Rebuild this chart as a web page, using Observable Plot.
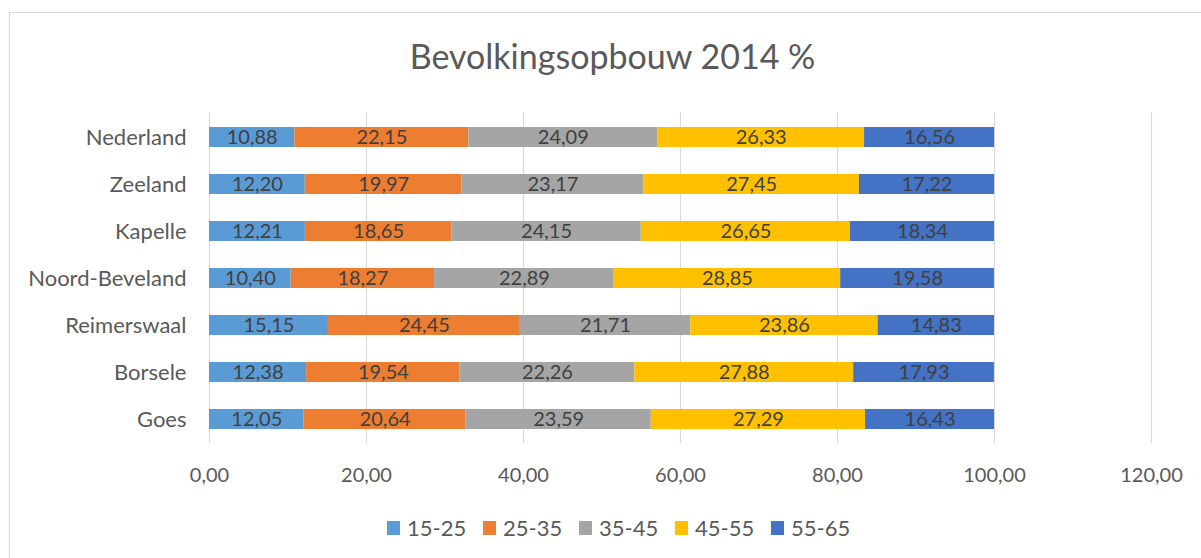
<!DOCTYPE html>
<html>
<head>
<meta charset="utf-8">
<script src="https://cdn.jsdelivr.net/npm/d3@7"></script>
<script src="https://cdn.jsdelivr.net/npm/@observablehq/plot@0.6"></script>
<style>
  html, body { margin: 0; padding: 0; background: #fff; }
  #wrap { position: relative; width: 1201px; height: 558px; overflow: hidden; font-family: Lato, "Open Sans", sans-serif; }
  #frame { position: absolute; left: 9px; top: 12px; width: 1250px; height: 600px; border: 1.5px solid #d9d9d9; box-sizing: border-box; }
  #title { position: absolute; left: 12px; top: 39px; width: 1201px; text-align: center; font-size: 34px; color: #595959; line-height: 1; }
  #chart { position: absolute; left: 0; top: 95px; }
  #legend { position: absolute; left: 0; top: 516px; width: 1201px; height: 24px; font-size: 22px; color: #595959; line-height: 24px; }
  #legend .item { position: absolute; top: 0; display: flex; align-items: center; gap: 7px; white-space: nowrap; }
  #legend .sw { width: 13px; height: 14px; display: inline-block; }
</style>
</head>
<body>
<div id="wrap">
  <div id="frame"></div>
  <div id="title">Bevolkingsopbouw 2014 %</div>
  <div id="chart"></div>
  <div id="legend"></div>
</div>
<script>
const categories = ["Nederland", "Zeeland", "Kapelle", "Noord-Beveland", "Reimerswaal", "Borsele", "Goes"];
const seriesNames = ["15-25", "25-35", "35-45", "45-55", "55-65"];
const s15_25 = [10.88, 12.20, 12.21, 10.40, 15.15, 12.38, 12.05];
const s25_35 = [22.15, 19.97, 18.65, 18.27, 24.45, 19.54, 20.64];
const s35_45 = [24.09, 23.17, 24.15, 22.89, 21.71, 22.26, 23.59];
const s45_55 = [26.33, 27.45, 26.65, 28.85, 23.86, 27.88, 27.29];
const s55_65 = [16.56, 17.22, 18.34, 19.58, 14.83, 17.93, 16.43];
const xTicks = [0, 20, 40, 60, 80, 100, 120];
const colors = ["#5B9BD5", "#ED7D31", "#A5A5A5", "#FFC000", "#4472C4"];

const seriesValues = [s15_25, s25_35, s35_45, s45_55, s55_65];
const data = [];
seriesNames.forEach((s, si) => {
  categories.forEach((c, ci) => {
    data.push({category: c, series: s, value: seriesValues[si][ci]});
  });
});

const fmt = v => d3.format(".2f")(v).replace(".", ",");

const chart = Plot.plot({
  width: 1201,
  height: 400,
  marginLeft: 209,
  marginRight: 50,
  marginTop: 17,
  marginBottom: 52,
  style: {fontFamily: "Lato, 'Open Sans', sans-serif", fontSize: "20px", color: "#595959", background: "transparent"},
  x: {domain: [0, 120], ticks: xTicks, tickFormat: fmt},
  y: {domain: categories, paddingInner: 0.58, paddingOuter: 0.29, label: null},
  color: {domain: seriesNames, range: colors},
  marks: [
    Plot.gridX(xTicks, {stroke: "#d9d9d9", strokeOpacity: 1, strokeWidth: 1.2}),
    Plot.barX(data, Plot.stackX({y: "category", x: "value", fill: "series", order: seriesNames})),
    Plot.text(data, Plot.stackX({y: "category", x: "value", z: "series", order: seriesNames, text: d => fmt(d.value), fill: "#404040", fontSize: 20})),
    Plot.axisX({ticks: xTicks, tickFormat: fmt, tickSize: 0, tickPadding: 24, label: null, fontSize: 20}),
    Plot.axisY({tickSize: 0, tickPadding: 23, label: null, fontSize: 22})
  ]
});
document.getElementById("chart").appendChild(chart);

const legend = document.getElementById("legend");
seriesNames.forEach((s, i) => {
  const item = document.createElement("span");
  item.className = "item";
  item.style.left = (387 + 96 * i) + "px";
  const sw = document.createElement("span");
  sw.className = "sw";
  sw.style.background = colors[i];
  const t = document.createElement("span");
  t.textContent = s;
  item.appendChild(sw);
  item.appendChild(t);
  legend.appendChild(item);
});
</script>
</body>
</html>
